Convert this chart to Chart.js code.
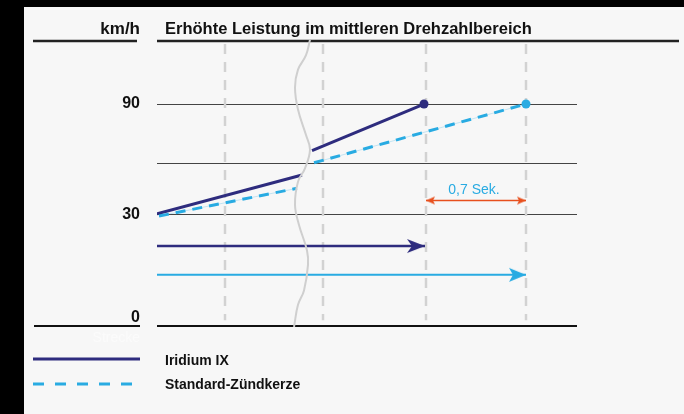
<!DOCTYPE html>
<html>
<head>
<meta charset="utf-8">
<script src="https://cdn.jsdelivr.net/npm/chart.js@4/dist/chart.umd.min.js"></script>
<style>
    html, body { margin: 0; padding: 0; background: #f7f7f7; }
    #wrap { width: 684px; height: 414px; }
</style>
</head>
<body>
<div id="wrap"><canvas id="chart" width="684" height="414"></canvas></div>
<script>
// Texts
const unitText = 'km/h';
const titleText = 'Erhöhte Leistung im mittleren Drehzahlbereich';
const distanceText = 'Strecke';
const gapText = '0,7 Sek.';

// y axis is stretched: level 0 = 0 km/h, level 1 = 30 km/h, level 2 = 90 km/h
const yGridValues = [0, 1, 1.46, 2];
const yTickLabels = ['0', '30', '', '90'];
// dashed time markers (x in arbitrary time units)
const xGridValues = [0.68, 1.66, 2.69, 3.69];

// series (null = break of the axis)
const iridiumLabel = 'Iridium IX';
const iridiumData = [{x: 0, y: 1.01}, {x: 1.45, y: 1.36}, {x: 1.5, y: null}, {x: 1.55, y: 1.58}, {x: 2.67, y: 2}];
const standardLabel = 'Standard-Zündkerze';
const standardData = [{x: 0.02, y: 0.99}, {x: 1.40, y: 1.24}, {x: 1.5, y: null}, {x: 1.57, y: 1.47}, {x: 3.69, y: 2}];

// distance arrows and time gap
const iridiumArrow = [{x: 0, y: 0.72}, {x: 2.68, y: 0.72}];
const standardArrow = [{x: 0, y: 0.46}, {x: 3.69, y: 0.46}];
const gapArrow = [{x: 2.69, y: 1.13}, {x: 3.69, y: 1.13}];

// wavy axis break line
const breakLine = [
    {x: 1.53, y: 2.58}, {x: 1.49, y: 2.44}, {x: 1.41, y: 2.31}, {x: 1.38, y: 2.15},
    {x: 1.41, y: 1.95}, {x: 1.49, y: 1.72}, {x: 1.53, y: 1.59}, {x: 1.48, y: 1.42},
    {x: 1.41, y: 1.30}, {x: 1.38, y: 1.09}, {x: 1.42, y: 0.91}, {x: 1.50, y: 0.68},
    {x: 1.51, y: 0.55}, {x: 1.47, y: 0.32}, {x: 1.41, y: 0.19}, {x: 1.37, y: -0.01}
];

const NAVY = '#2e2c7e';
const CYAN = '#29abe2';
const ORANGE = '#e8501e';
const FONT = "'Liberation Sans', Arial, sans-serif";

// arrow head image, tip sits in the centre of the canvas
function makeHead(color, len, half, notch) {
    const c = document.createElement('canvas');
    c.width = len * 2 + 2;
    c.height = half * 2 + 2;
    const g = c.getContext('2d');
    const cx = len + 1, cy = half + 1;
    g.fillStyle = color;
    g.beginPath();
    g.moveTo(cx, cy);
    g.lineTo(cx - len, cy - half);
    g.lineTo(cx - len + notch, cy);
    g.lineTo(cx - len, cy + half);
    g.closePath();
    g.fill();
    return c;
}

const navyHead = makeHead(NAVY, 18, 7, 5);
const cyanHead = makeHead(CYAN, 17, 7, 4);
const orangeHead = makeHead(ORANGE, 9, 4, 2);

function lastOnly(value) {
    return ctx => ctx.dataIndex === ctx.dataset.data.length - 1 ? value : false;
}

const decor = {
    id: 'decor',
    beforeDraw(chart) {
        const c = chart.ctx;
        c.save();
        c.fillStyle = '#f7f7f7';
        c.fillRect(0, 0, chart.width, chart.height);
        c.fillStyle = '#000';
        c.fillRect(0, 0, chart.width, 7);
        c.fillRect(0, 0, 24, chart.height);

        // header rules
        c.strokeStyle = '#222';
        c.lineWidth = 2.5;
        c.beginPath();
        c.moveTo(33, 41); c.lineTo(137, 41);
        c.moveTo(157, 41); c.lineTo(679, 41);
        c.stroke();

        // rule under the "0" label
        const y0 = chart.scales.y.getPixelForValue(0);
        c.strokeStyle = '#111';
        c.lineWidth = 2;
        c.beginPath();
        c.moveTo(34, y0); c.lineTo(140, y0);
        c.stroke();
        c.restore();
    },
    beforeDatasetsDraw(chart) {
        const c = chart.ctx;
        const {x, y} = chart.scales;
        c.save();
        c.strokeStyle = '#d2d2d2';
        c.lineWidth = 2.5;
        c.setLineDash([10, 8]);
        xGridValues.forEach(v => {
            const px = x.getPixelForValue(v);
            c.beginPath();
            c.moveTo(px, y.getPixelForValue(2.54));
            c.lineTo(px, y.getPixelForValue(0.05));
            c.stroke();
        });
        c.restore();
    },
    afterDraw(chart) {
        const c = chart.ctx;
        const {x, y} = chart.scales;
        c.save();
        c.fillStyle = '#111';
        c.textBaseline = 'middle';

        c.font = 'bold 17px ' + FONT;
        c.textAlign = 'right';
        c.fillText(unitText, 140, 29);
        c.font = 'bold 16px ' + FONT;
        yGridValues.forEach((v, i) => {
            if (!yTickLabels[i]) return;
            const py = y.getPixelForValue(v) - (v === 0 ? 8 : 0);
            c.fillText(yTickLabels[i], 140, py);
        });

        c.font = 'bold 16.5px ' + FONT;
        c.textAlign = 'left';
        c.fillText(titleText, 165, 29);

        c.font = '14px ' + FONT;
        c.textAlign = 'right';
        c.fillStyle = '#fbfbfb';
        c.fillText(distanceText, 140, 338);

        // time gap label
        const gx = (x.getPixelForValue(gapArrow[0].x) + x.getPixelForValue(gapArrow[1].x)) / 2;
        c.font = '14px ' + FONT;
        c.textAlign = 'center';
        c.fillStyle = CYAN;
        c.fillText(gapText, gx - 2, y.getPixelForValue(gapArrow[0].y) - 10);

        // legend
        c.lineWidth = 3;
        c.strokeStyle = NAVY;
        c.beginPath();
        c.moveTo(33, 359); c.lineTo(140, 359);
        c.stroke();
        c.strokeStyle = CYAN;
        c.setLineDash([11, 11]);
        c.beginPath();
        c.moveTo(33, 384); c.lineTo(136, 384);
        c.stroke();
        c.setLineDash([]);

        c.font = 'bold 14px ' + FONT;
        c.textAlign = 'left';
        c.fillStyle = '#111';
        c.fillText(iridiumLabel, 165, 361);
        c.fillText(standardLabel, 165, 385);
        c.restore();
    }
};

const ctx = document.getElementById('chart').getContext('2d');
const chart = new Chart(ctx, {
    type: 'line',
    data: {
        datasets: [
            {
                label: 'break',
                data: breakLine,
                borderColor: '#cfcfcf',
                borderWidth: 2,
                tension: 0.4,
                pointRadius: 0,
                clip: false
            },
            {
                label: standardLabel + ' (Hilfslinie)',
                data: standardData,
                borderColor: 'rgba(41, 171, 226, 0.25)',
                borderWidth: 1,
                pointRadius: 0
            },
            {
                label: standardLabel,
                data: standardData,
                borderColor: CYAN,
                backgroundColor: CYAN,
                borderWidth: 3,
                borderDash: [10, 7],
                pointRadius: lastOnly(4.5),
                pointBorderWidth: 0
            },
            {
                label: iridiumLabel,
                data: iridiumData,
                borderColor: NAVY,
                backgroundColor: NAVY,
                borderWidth: 3,
                pointRadius: lastOnly(4.5),
                pointBorderWidth: 0
            },
            {
                label: 'Strecke ' + iridiumLabel,
                data: iridiumArrow,
                borderColor: NAVY,
                borderWidth: 2.5,
                pointStyle: lastOnly(navyHead),
                pointRadius: lastOnly(5)
            },
            {
                label: 'Strecke ' + standardLabel,
                data: standardArrow,
                borderColor: CYAN,
                borderWidth: 2,
                pointStyle: lastOnly(cyanHead),
                pointRadius: lastOnly(5)
            },
            {
                label: gapText,
                data: gapArrow,
                borderColor: ORANGE,
                borderWidth: 1.5,
                pointStyle: orangeHead,
                pointRotation: ctx => ctx.dataIndex === 0 ? 180 : 0,
                pointRadius: 5
            }
        ]
    },
    options: {
        responsive: false,
        animation: false,
        spanGaps: false,
        layout: { padding: { left: 157, right: 107, top: 43, bottom: 77 } },
        plugins: {
            legend: { display: false },
            title: { display: false },
            tooltip: { enabled: false }
        },
        scales: {
            x: {
                type: 'linear',
                display: false,
                min: 0,
                max: 4.2
            },
            y: {
                type: 'linear',
                min: -0.1,
                max: 2.55,
                afterBuildTicks: axis => { axis.ticks = yGridValues.map(v => ({ value: v })); },
                afterFit: axis => { axis.width = 0; },
                ticks: { display: false },
                border: { display: false },
                grid: {
                    drawTicks: false,
                    color: c => c.tick.value === 0 ? '#111' : '#444',
                    lineWidth: c => c.tick.value === 0 ? 2 : 1
                }
            }
        }
    },
    plugins: [decor]
});
</script>
</body>
</html>
